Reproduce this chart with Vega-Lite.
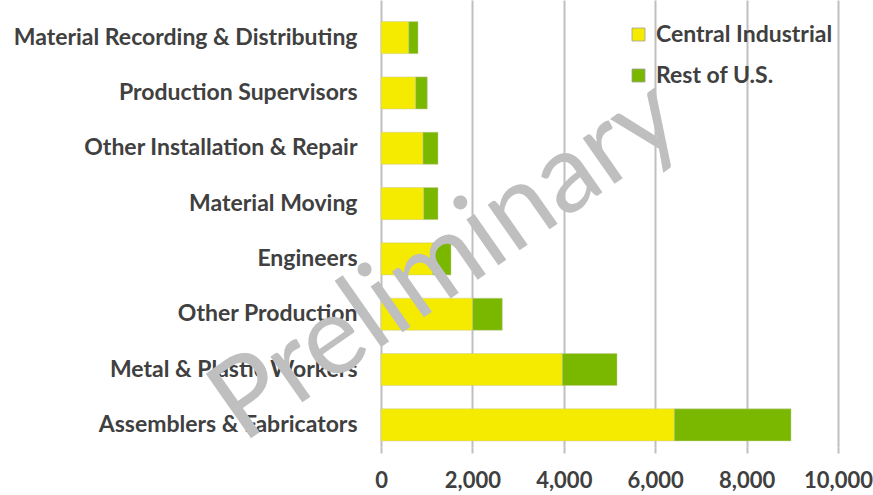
{
  "$schema": "https://vega.github.io/schema/vega-lite/v6.json",
  "autosize": {"type": "none"},
  "width": 457,
  "height": 447,
  "padding": {"left": 381, "top": 0, "right": 35, "bottom": 48},
  "background": "white",
  "config": {
    "view": {"stroke": null},
    "font": "Lato"
  },
  "datasets": {
    "bars": [
      {"occupation": "Material Recording & Distributing", "region": "Central Industrial", "jobs": 606},
      {"occupation": "Material Recording & Distributing", "region": "Rest of U.S.", "jobs": 204},
      {"occupation": "Production Supervisors", "region": "Central Industrial", "jobs": 759},
      {"occupation": "Production Supervisors", "region": "Rest of U.S.", "jobs": 254},
      {"occupation": "Other Installation & Repair", "region": "Central Industrial", "jobs": 919},
      {"occupation": "Other Installation & Repair", "region": "Rest of U.S.", "jobs": 328},
      {"occupation": "Material Moving ", "region": "Central Industrial", "jobs": 934},
      {"occupation": "Material Moving ", "region": "Rest of U.S.", "jobs": 313},
      {"occupation": "Engineers", "region": "Central Industrial", "jobs": 1131},
      {"occupation": "Engineers", "region": "Rest of U.S.", "jobs": 401},
      {"occupation": "Other Production", "region": "Central Industrial", "jobs": 2006},
      {"occupation": "Other Production", "region": "Rest of U.S.", "jobs": 648},
      {"occupation": "Metal & Plastic Workers", "region": "Central Industrial", "jobs": 3967},
      {"occupation": "Metal & Plastic Workers", "region": "Rest of U.S.", "jobs": 1197},
      {"occupation": "Assemblers & Fabricators", "region": "Central Industrial", "jobs": 6418},
      {"occupation": "Assemblers & Fabricators", "region": "Rest of U.S.", "jobs": 2554}
    ],
    "mark": [
      {"occupation": "Engineers", "jobs": 1390, "label": "Preliminary"}
    ]
  },
  "encoding": {
    "y": {
      "field": "occupation",
      "type": "nominal",
      "sort": null,
      "scale": {"paddingInner": 0.42, "paddingOuter": 0.25, "align": 0.78},
      "axis": {
        "title": null,
        "domain": false,
        "ticks": false,
        "labelFont": "Lato",
        "labelFontWeight": "bold",
        "labelFontSize": 23,
        "labelColor": "#404040",
        "labelPadding": 24,
        "labelLimit": 400
      }
    }
  },
  "layer": [
    {
      "data": {"name": "bars"},
      "mark": {"type": "bar", "stroke": "#c8c8a0", "strokeWidth": 0.8, "strokeOpacity": 0.6},
      "encoding": {
        "x": {
          "field": "jobs",
          "type": "quantitative",
          "stack": "zero",
          "scale": {"domain": [0, 10000], "nice": false},
          "axis": {
            "title": null,
            "values": [0, 2000, 4000, 6000, 8000, 10000],
            "format": ",d",
            "grid": true,
            "gridColor": "#bfbfbf",
            "gridWidth": 2,
            "domain": false,
            "ticks": true,
            "tickColor": "#bfbfbf",
            "tickWidth": 2,
            "tickSize": 6,
            "labelFont": "Lato",
            "labelFontWeight": "bold",
            "labelFontSize": 22,
            "labelColor": "#404040",
            "labelPadding": 17,
            "labelFlush": false
          }
        },
        "color": {
          "field": "region",
          "type": "nominal",
          "scale": {"domain": ["Central Industrial", "Rest of U.S."], "range": ["#f5eb00", "#7ab800"]},
          "legend": {
            "title": null,
            "orient": "none",
            "legendX": 246,
            "legendY": 23,
            "symbolType": "square",
            "symbolSize": 169,
            "symbolStrokeColor": "#a0a0a0",
            "symbolStrokeWidth": 0.8,
            "labelFont": "Lato",
            "labelFontWeight": "bold",
            "labelFontSize": 23,
            "labelColor": "#404040",
            "labelOffset": 6,
            "labelLimit": 300,
            "rowPadding": 17
          }
        }
      }
    },
    {
      "data": {"name": "mark"},
      "mark": {"type": "text", "angle": -35, "fontSize": 110, "font": "Lato", "fontWeight": "normal", "color": "#bfbfbf", "align": "center", "baseline": "middle", "dy": 3},
      "encoding": {
        "x": {"field": "jobs", "type": "quantitative"},
        "text": {"field": "label"}
      }
    }
  ]
}
